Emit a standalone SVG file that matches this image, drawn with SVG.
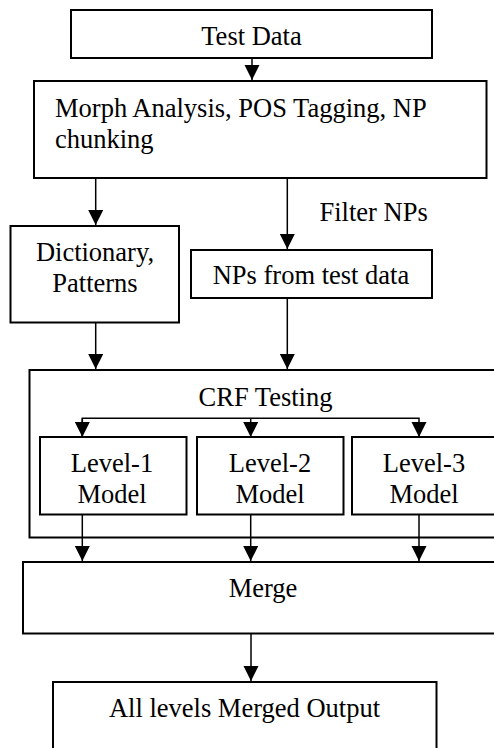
<svg xmlns="http://www.w3.org/2000/svg" width="494" height="748" viewBox="0 0 494 748">
  <style>
    .box { fill: #ffffff; stroke: #000000; stroke-width: 2; }
    .link { fill: none; stroke: #000000; stroke-width: 1.5; }
    text { font-family: "Liberation Serif", "Times New Roman", serif; font-size: 26.5px; fill: #000000; }
    .c { text-anchor: middle; }
  </style>
  <defs>
    <marker id="arrow" markerUnits="userSpaceOnUse" markerWidth="18" markerHeight="18" refX="15" refY="7.5" orient="auto">
      <path d="M0,0 L15,7.5 L0,15 Z" fill="#000000"/>
    </marker>
  </defs>

  <rect width="494" height="748" fill="#ffffff"/>

  <g id="test-data">
    <rect class="box" x="71" y="10" width="361" height="48"/>
    <text class="c" x="251.5" y="45">Test Data</text>
  </g>

  <g id="preprocessing">
    <rect class="box" x="34" y="81" width="452.5" height="97"/>
    <text x="55" y="117">Morph Analysis, POS Tagging, NP</text>
    <text x="55" y="148">chunking</text>
  </g>

  <g id="dictionary">
    <rect class="box" x="10.5" y="226" width="168.5" height="96.5"/>
    <text class="c" x="95" y="261">Dictionary,</text>
    <text class="c" x="95" y="292">Patterns</text>
  </g>

  <g id="nps">
    <rect class="box" x="191" y="250" width="241" height="48"/>
    <text class="c" x="311" y="284">NPs from test data</text>
  </g>

  <g id="crf-testing">
    <rect class="box" x="29.5" y="370" width="480" height="167.5"/>
    <text class="c" x="265.5" y="406">CRF Testing</text>
  </g>

  <g id="level-1">
    <rect class="box" x="40" y="437" width="146.5" height="77.5"/>
    <text class="c" x="112" y="472">Level-1</text>
    <text class="c" x="112" y="503">Model</text>
  </g>

  <g id="level-2">
    <rect class="box" x="197" y="437" width="146.5" height="77.5"/>
    <text class="c" x="270" y="472">Level-2</text>
    <text class="c" x="270" y="503">Model</text>
  </g>

  <g id="level-3">
    <rect class="box" x="352" y="437" width="160" height="77.5"/>
    <text class="c" x="424" y="472">Level-3</text>
    <text class="c" x="424" y="503">Model</text>
  </g>

  <g id="merge">
    <rect class="box" x="23" y="562" width="490" height="71.5"/>
    <text class="c" x="263" y="597">Merge</text>
  </g>

  <g id="merged-output">
    <rect class="box" x="53" y="682" width="383.5" height="90"/>
    <text class="c" x="244.5" y="717">All levels Merged Output</text>
  </g>

  <g id="connectors">
    <line class="link" x1="252" y1="58" x2="252" y2="80" marker-end="url(#arrow)"/>
    <line class="link" x1="95.7" y1="178" x2="95.7" y2="225" marker-end="url(#arrow)"/>
    <line class="link" x1="287.3" y1="178" x2="287.3" y2="249" marker-end="url(#arrow)"/>
    <text x="319.5" y="221">Filter NPs</text>
    <line class="link" x1="95.7" y1="322.5" x2="95.7" y2="369" marker-end="url(#arrow)"/>
    <line class="link" x1="287.3" y1="298" x2="287.3" y2="369" marker-end="url(#arrow)"/>
    <path class="link" d="M82.3,438 V418.3 H419 V437" marker-end="url(#arrow)"/>
    <line class="link" x1="82.3" y1="418.3" x2="82.3" y2="437" marker-end="url(#arrow)"/>
    <line class="link" x1="250.7" y1="418.3" x2="250.7" y2="437" marker-end="url(#arrow)"/>
    <line class="link" x1="82.3" y1="514.5" x2="82.3" y2="561" marker-end="url(#arrow)"/>
    <line class="link" x1="250.7" y1="514.5" x2="250.7" y2="561" marker-end="url(#arrow)"/>
    <line class="link" x1="419" y1="514.5" x2="419" y2="561" marker-end="url(#arrow)"/>
    <line class="link" x1="251" y1="633.5" x2="251" y2="681" marker-end="url(#arrow)"/>
  </g>
</svg>
